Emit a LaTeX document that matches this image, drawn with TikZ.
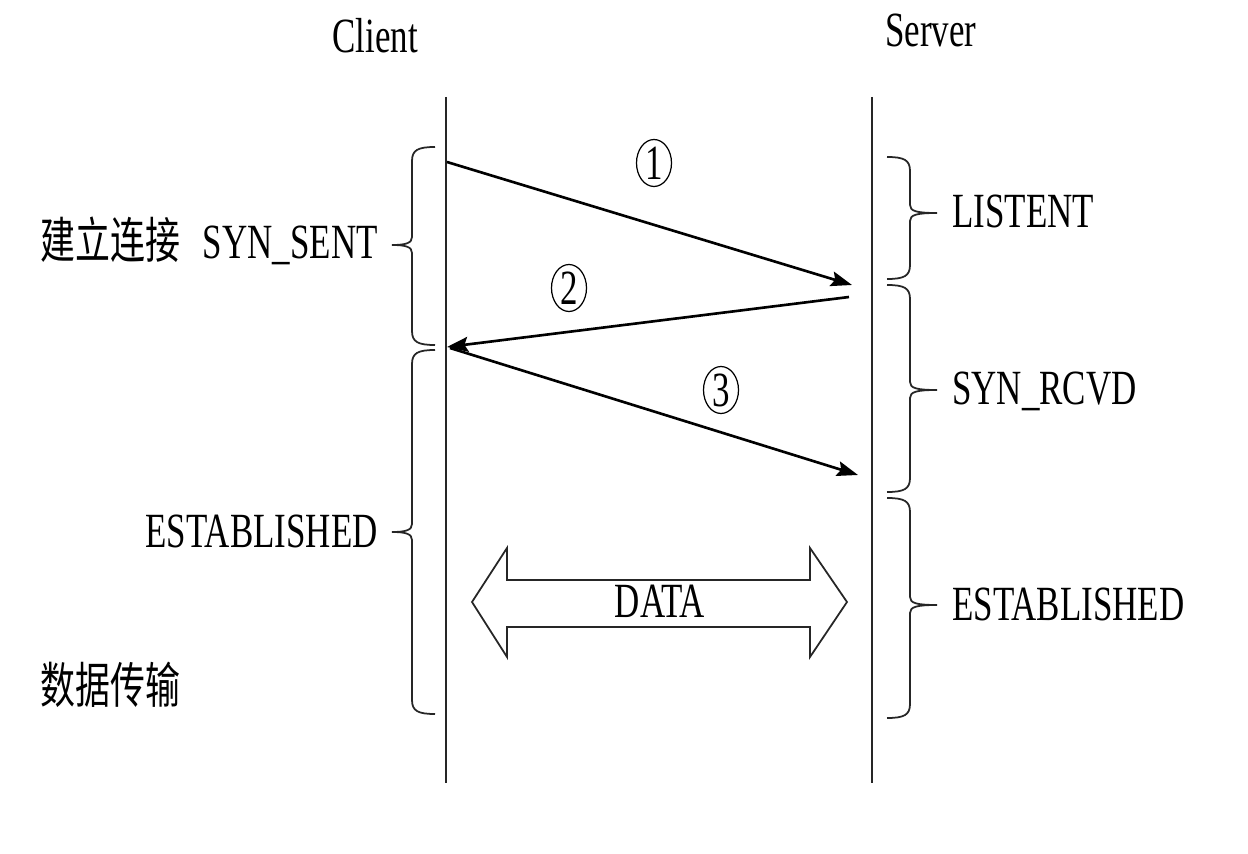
\documentclass[tikz,border=0pt]{standalone}
\usepackage{fontspec}
\setmainfont{Liberation Serif}
\newfontfamily\cjk{Noto Sans CJK SC}
\usetikzlibrary{arrows.meta,shapes.geometric}
\newcommand\sq[1]{\scalebox{0.71}[1]{#1}}
\newcommand\ClientBrace[3]{%
  \draw[brc] (435,#1) .. controls (418,#1) and (412,{#1+3}) .. (412,{#1+14})
    -- (412,{#3-8}) .. controls (412,{#3-2}) and (406,#3) .. (392,#3)
    .. controls (406,#3) and (412,{#3+2}) .. (412,{#3+8})
    -- (412,{#2-14}) .. controls (412,{#2-3}) and (418,#2) .. (435,#2);}
\newcommand\ServerBrace[3]{%
  \draw[brc] (887,#1) .. controls (904,#1) and (910,{#1+3}) .. (910,{#1+14})
    -- (910,{#3-8}) .. controls (910,{#3-2}) and (916,#3) .. (937,#3)
    .. controls (916,#3) and (910,{#3+2}) .. (910,{#3+8})
    -- (910,{#2-14}) .. controls (910,{#2-3}) and (904,#2) .. (887,#2);}
\begin{document}
\begin{tikzpicture}[x=0.02cm,y=-0.02cm,
  txt/.style={inner sep=0pt,font=\fontsize{28pt}{30pt}\selectfont,text=black},
  life/.style={line width=1.1pt,black!85},
  brc/.style={line width=1pt,black!85},
  msg/.style={line width=1.5pt,black,-{Stealth[length=12pt,width=8.5pt,inset=2pt]}},
  num/.style={ellipse,draw,line width=0.7pt,inner sep=0pt,
    minimum width=0.7cm,minimum height=0.94cm,font=\fontsize{28pt}{30pt}\selectfont}]
\useasboundingbox (0,0) rectangle (1248,854);
% lifelines
\coordinate (ct) at (446,97); \coordinate (cb) at (446,783);
\coordinate (st) at (872,97); \coordinate (sb) at (872,783);
\draw[life] (ct) -- (cb);
\draw[life] (st) -- (sb);
\node[txt,anchor=base west] (client) at (332,53) {\sq{Client}};
\node[txt,anchor=base west] (server) at (885,47) {\sq{Server}};
% messages
\coordinate (a1s) at (447,162); \coordinate (a1e) at (852,285);
\coordinate (a2s) at (849,297); \coordinate (a2e) at (447,347);
\coordinate (a3s) at (450,348); \coordinate (a3e) at (858,475);
\draw[msg] (a1s) -- (a1e);
\draw[msg] (a2s) -- (a2e);
\draw[msg] (a3s) -- (a3e);
\node[num] (n1) at (654,163) {\sq{1}};
\node[num] (n2) at (569,288) {\sq{2}};
\node[num] (n3) at (721,390) {\sq{3}};
% braces
\ClientBrace{147}{345}{245}
\ClientBrace{350}{714}{532}
\ServerBrace{157}{279}{213}
\ServerBrace{285}{492}{390}
\ServerBrace{498}{718}{605}
% left labels
\node[txt,anchor=base west] (cn1) at (40,259) {\cjk\sq{建立连接}};
\node[txt,anchor=base east] (synsent) at (378,259) {\sq{SYN\_SENT}};
\node[txt,anchor=base east] (cest) at (378,548) {\sq{ESTABLISHED}};
\node[txt,anchor=base west] (cn2) at (40,704) {\cjk\sq{数据传输}};
% right labels
\node[txt,anchor=base west] (listen) at (952,228) {\sq{LISTENT}};
\node[txt,anchor=base west] (synrcvd) at (952,405) {\sq{SYN\_RCVD}};
\node[txt,anchor=base west] (sest) at (952,621) {\sq{ESTABLISHED}};
% data arrow
\draw[line width=1pt,black!85] (472,602) -- (507,548) -- (507,580) -- (810,580) -- (810,548)
  -- (847,602) -- (810,657) -- (810,627) -- (507,627) -- (507,657) -- cycle;
\node[txt,anchor=base] (data) at (660,618) {\sq{DATA}};
\end{tikzpicture}
\end{document}
